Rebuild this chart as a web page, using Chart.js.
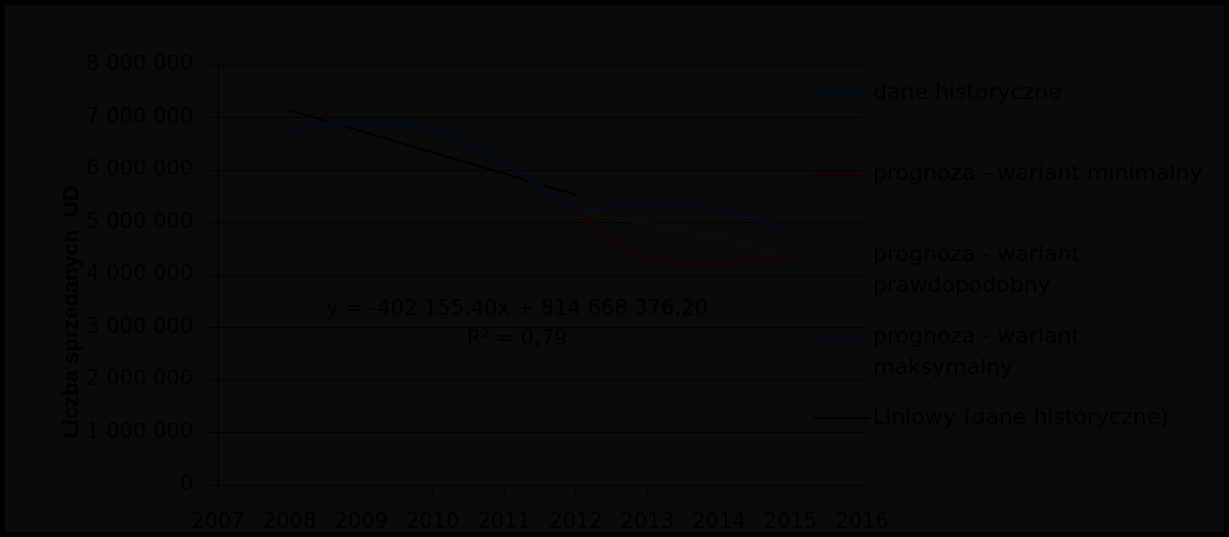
<!DOCTYPE html>
<html lang="pl">
<head>
<meta charset="utf-8">
<title>Liczba sprzedanych UD</title>
<script src="https://cdn.jsdelivr.net/npm/chart.js@4/dist/chart.umd.min.js"></script>
<style>
    html, body { margin: 0; padding: 0; background: #000; overflow: hidden; }
    #chart { display: block; }
</style>
</head>
<body>
<canvas id="chart" width="1229" height="537"></canvas>
<script>
// ── Data ─────────────────────────────────────────────────────────────
const histYears = [2008, 2009, 2010, 2011, 2012];
const histValues = [6760000, 6910000, 6760000, 6130000, 5200000];

const forecastYears = [2012, 2013, 2014, 2015];
const minValues = [5200000, 4340000, 4250000, 4320000];
const probValues = [5200000, 4990000, 4720000, 4320000];
const maxValues = [5200000, 5370000, 5240000, 4860000];

const trendYears = [2008, 2012];
const trendValues = [7140000, 5530000];

const seriesNames = [
    'dane historyczne',
    'prognoza - wariant minimalny',
    'prognoza - wariant prawdopodobny',
    'prognoza - wariant maksymalny',
    'Liniowy (dane historyczne)'
];
const yTitle = 'Liczba sprzedanych  UD';
const trendEquation = ['y = -402 155,40x + 814 668 376,20', 'R² = 0,79'];

// ── Helpers ──────────────────────────────────────────────────────────
const toPoints = (xs, ys) => xs.map((x, i) => ({ x: x, y: ys[i] }));
const fmtSpace = v => String(v).replace(/\B(?=(\d{3})+(?!\d))/g, ' ');

const TEXT = '#000000';
const GRID = '#000000';
const TICK_FONT = { family: 'DejaVu Sans', size: 21 };

// ── Background frame ─────────────────────────────────────────────────
const framePlugin = {
    id: 'frame',
    beforeDraw(chart) {
        const c = chart.ctx;
        c.save();
        c.fillStyle = '#000000';
        c.fillRect(0, 0, chart.width, chart.height);
        c.fillStyle = '#0a0a0a';
        c.fillRect(5, 5, chart.width - 10, chart.height - 10);
        c.restore();
    }
};

// ── Extra drawing: axis title, trend label, legend ───────────────────
const decorPlugin = {
    id: 'decor',
    afterDraw(chart) {
        const c = chart.ctx;
        c.save();
        c.fillStyle = TEXT;

        // y axis title
        c.save();
        c.translate(72, 312);
        c.rotate(-Math.PI / 2);
        c.font = 'bold 22px "Liberation Sans"';
        c.textAlign = 'center';
        c.textBaseline = 'middle';
        c.fillText(yTitle, 0, 0);
        c.restore();

        // trend equation
        c.font = '21px "DejaVu Sans"';
        c.textAlign = 'center';
        c.textBaseline = 'middle';
        c.fillText(trendEquation[0], 517, 310);
        c.fillText(trendEquation[1], 517, 340);

        // legend
        const ds = chart.data.datasets;
        const legX = 813, markW = 57, textX = 873, maxW = 335;
        c.font = '22px "DejaVu Sans"';
        c.textAlign = 'left';
        ds.forEach((d, i) => {
            const y = 93 + i * 81.3;
            c.strokeStyle = d.borderColor;
            c.lineWidth = d.borderWidth;
            c.beginPath();
            c.moveTo(legX, y);
            c.lineTo(legX + markW, y);
            c.stroke();

            // simple word wrap
            const words = d.label.split(' ');
            const lines = [];
            let cur = '';
            words.forEach(w => {
                const test = cur ? cur + ' ' + w : w;
                if (c.measureText(test).width > maxW && cur) {
                    lines.push(cur);
                    cur = w;
                } else {
                    cur = test;
                }
            });
            lines.push(cur);
            lines.forEach((ln, j) => c.fillText(ln, textX, y + j * 31));
        });
        c.restore();
    }
};

// ── Chart ────────────────────────────────────────────────────────────
const ctx = document.getElementById('chart').getContext('2d');
new Chart(ctx, {
    type: 'line',
    data: {
        datasets: [
            {
                label: seriesNames[0],
                data: toPoints(histYears, histValues),
                borderColor: '#050b16',
                borderWidth: 5,
                tension: 0.4
            },
            {
                label: seriesNames[1],
                data: toPoints(forecastYears, minValues),
                borderColor: '#160404',
                borderWidth: 4,
                tension: 0.4
            },
            {
                label: seriesNames[2],
                data: toPoints(forecastYears, probValues),
                borderColor: '#0d0d07',
                borderWidth: 4,
                tension: 0.4
            },
            {
                label: seriesNames[3],
                data: toPoints(forecastYears, maxValues),
                borderColor: '#080a18',
                borderWidth: 4,
                tension: 0.4
            },
            {
                label: seriesNames[4],
                data: toPoints(trendYears, trendValues),
                borderColor: '#000000',
                borderWidth: 2,
                tension: 0
            }
        ]
    },
    options: {
        responsive: false,
        animation: false,
        devicePixelRatio: 1,
        layout: { padding: { top: 65, right: 367, bottom: 0, left: 0 } },
        elements: { point: { radius: 0 }, line: { fill: false, borderCapStyle: 'round' } },
        plugins: {
            legend: { display: false },
            tooltip: { enabled: false }
        },
        scales: {
            x: {
                type: 'linear',
                min: 2007,
                max: 2016,
                afterFit: s => { s.height = 52; },
                ticks: {
                    stepSize: 1,
                    color: TEXT,
                    font: TICK_FONT,
                    padding: 18,
                    maxRotation: 0,
                    callback: v => String(v)
                },
                grid: { drawOnChartArea: false, drawTicks: true, tickLength: 7, color: GRID },
                border: { display: true, color: GRID, width: 1 }
            },
            y: {
                min: 0,
                max: 8000000,
                afterFit: s => { s.width = 218; },
                ticks: {
                    stepSize: 1000000,
                    color: TEXT,
                    font: TICK_FONT,
                    padding: 17,
                    callback: v => fmtSpace(v)
                },
                grid: { color: GRID, tickLength: 8, lineWidth: 1 },
                border: { display: true, color: GRID, width: 1 }
            }
        }
    },
    plugins: [framePlugin, decorPlugin]
});
</script>
</body>
</html>
